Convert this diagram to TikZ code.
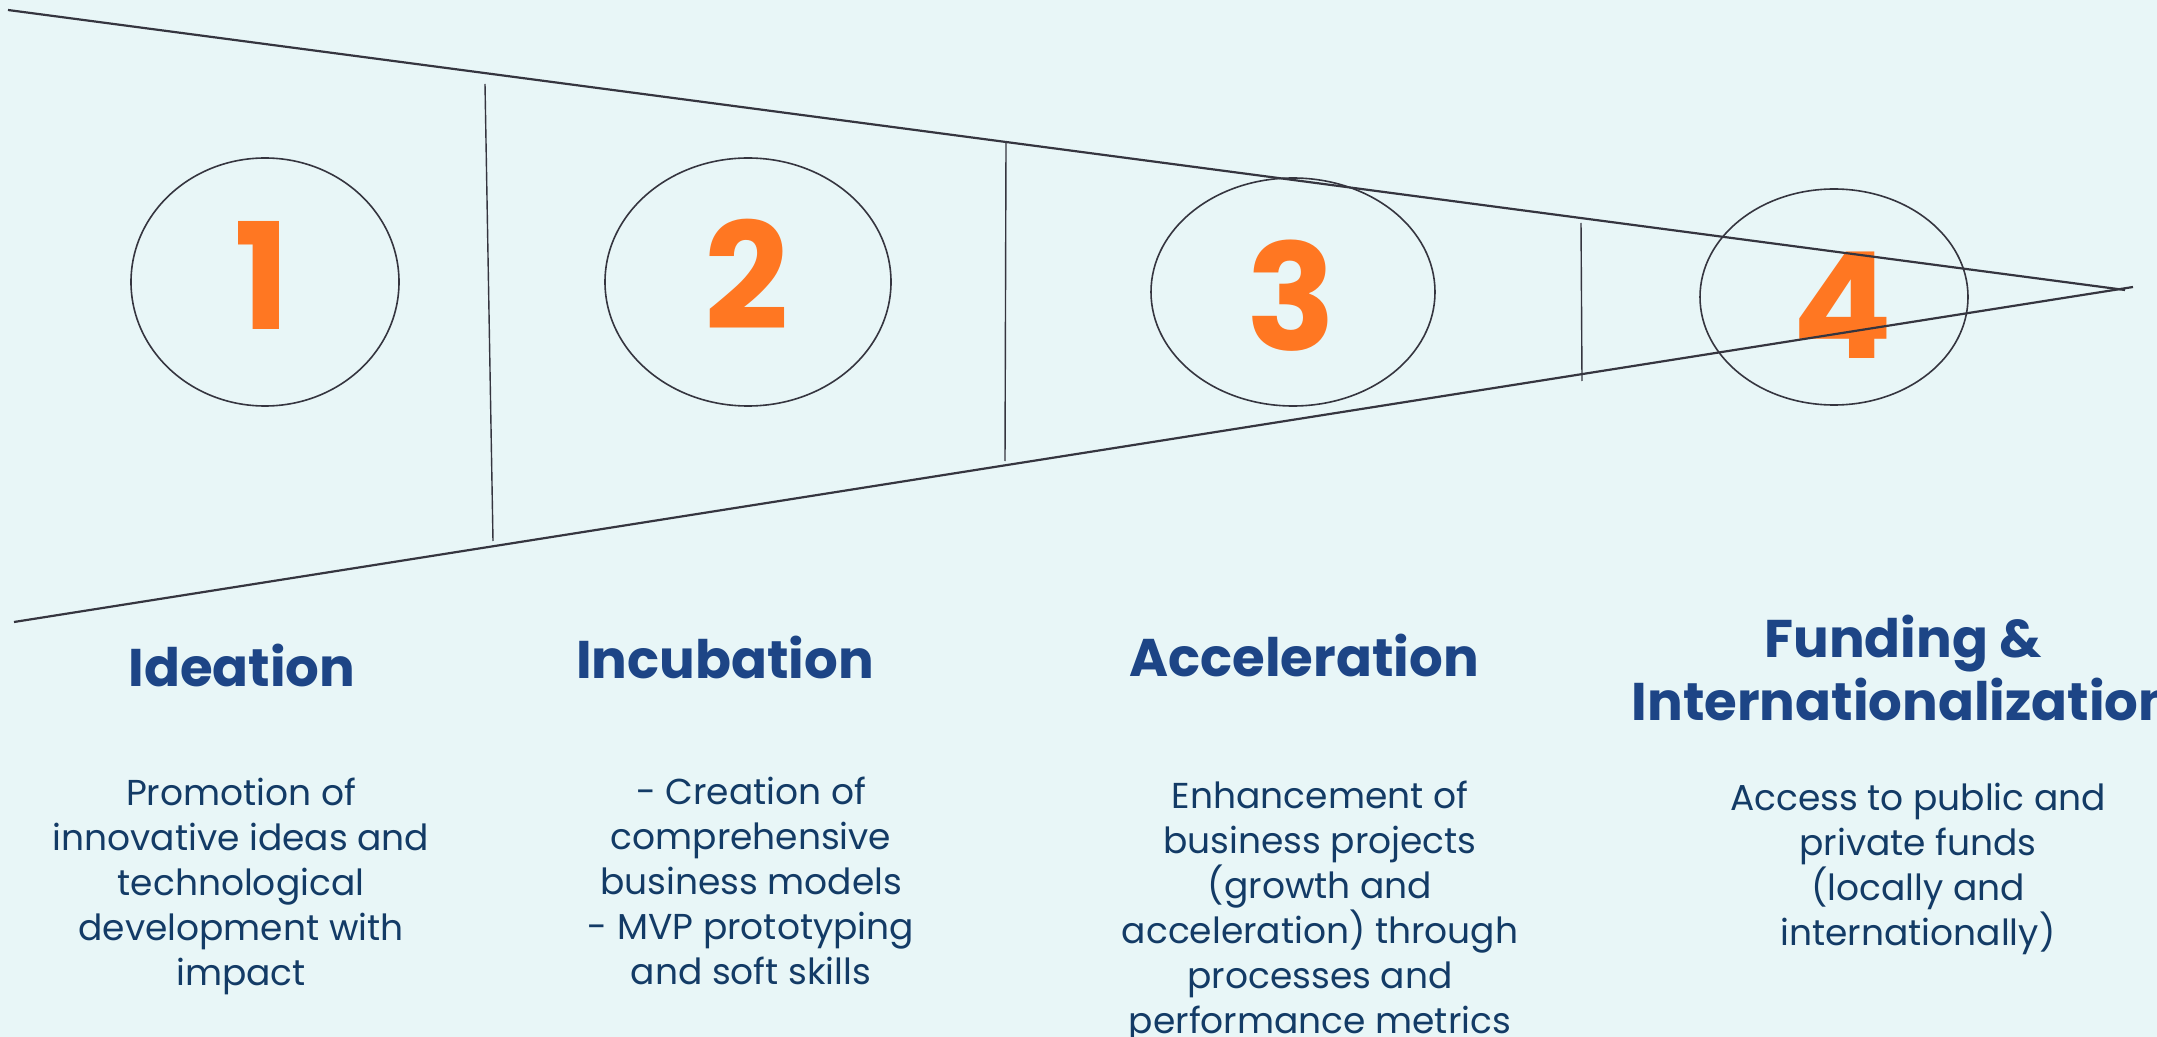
\documentclass[tikz,border=0pt]{standalone}
\usepackage{fontspec}
\setmainfont{Poppins}
\usetikzlibrary{shapes.geometric}
\definecolor{bgc}{HTML}{E8F6F7}
\definecolor{titleblue}{HTML}{1D4586}
\definecolor{bodyblue}{HTML}{133B66}
\definecolor{numorange}{HTML}{FF7722}
\definecolor{linegray}{HTML}{35353F}
\tikzset{
  stage/.style={draw=linegray, line width=0.8pt, ellipse, inner sep=0pt},
  num/.style={text=numorange, font=\fontsize{74}{80}\selectfont\bfseries, inner sep=0pt, anchor=base},
  ttl/.style={text=titleblue, font=\fontsize{26.5}{30}\selectfont\bfseries, inner sep=0pt, align=center},
  body/.style={text=bodyblue, font=\fontsize{18}{22.5}\selectfont, inner sep=0pt, align=center, anchor=north},
  funnel/.style={draw=linegray, line width=1.1pt},
  divider/.style={draw=linegray, line width=0.7pt}
}
\begin{document}
\begin{tikzpicture}[x=0.5pt,y=-0.5pt]
\fill[bgc] (0,0) rectangle (2157,1037);
\useasboundingbox (0,0) rectangle (2157,1037);
\clip (0,0) rectangle (2157,1037);

% ellipses
\node[stage, minimum width=134pt, minimum height=124pt] (e1) at (265,282) {};
\node[stage, minimum width=143pt, minimum height=124pt] (e2) at (748,282) {};
\node[stage, minimum width=142pt, minimum height=114pt] (e3) at (1293,292) {};
\node[stage, minimum width=134pt, minimum height=108pt] (e4) at (1834,297) {};

% numbers
\node[num] (n1) at (262,330) {1};
\node[num] (n2) at (747,330) {2};
\node[num] (n3) at (1291,351) {3};
\node[num] (n4) at (1843,359) {4};

% funnel
\coordinate (tl) at (8,10);
\coordinate (tr) at (2125,290);
\coordinate (bl) at (14,622);
\coordinate (br) at (2133,287);
\draw[funnel] (tl) -- (tr);
\draw[funnel] (bl) -- (br);

% dividers
\coordinate (d1a) at (485,84);
\coordinate (d1b) at (493,541);
\coordinate (d2a) at (1006,142);
\coordinate (d2b) at (1005,461);
\coordinate (d3a) at (1581,223);
\coordinate (d3b) at (1582,381);
\draw[divider] (d1a) -- (d1b);
\draw[divider] (d2a) -- (d2b);
\draw[divider] (d3a) -- (d3b);

% titles
\node[ttl, anchor=base] (t1) at (242,686) {Ideation};
\node[ttl, anchor=base] (t2) at (725,678) {Incubation};
\node[ttl, anchor=base] (t3) at (1304,676) {Acceleration};
\node[ttl, anchor=north] (t4) at (1903,615) {\strut Funding \&\\Internationalization};

% bodies
\node[body] (b1) at (241,773.5) {\strut Promotion of\\innovative ideas and\\technological\\development with\\impact};
\node[body] (b2) at (751,772.5) {\strut - Creation of\\comprehensive\\business models\\- MVP prototyping\\and soft skills};
\node[body] (b3) at (1320,776.5) {\strut Enhancement of\\business projects\\(growth and\\acceleration) through\\processes and\\performance metrics};
\node[body] (b4) at (1918,778.5) {\strut Access to public and\\private funds\\(locally and\\internationally)};
\end{tikzpicture}
\end{document}
